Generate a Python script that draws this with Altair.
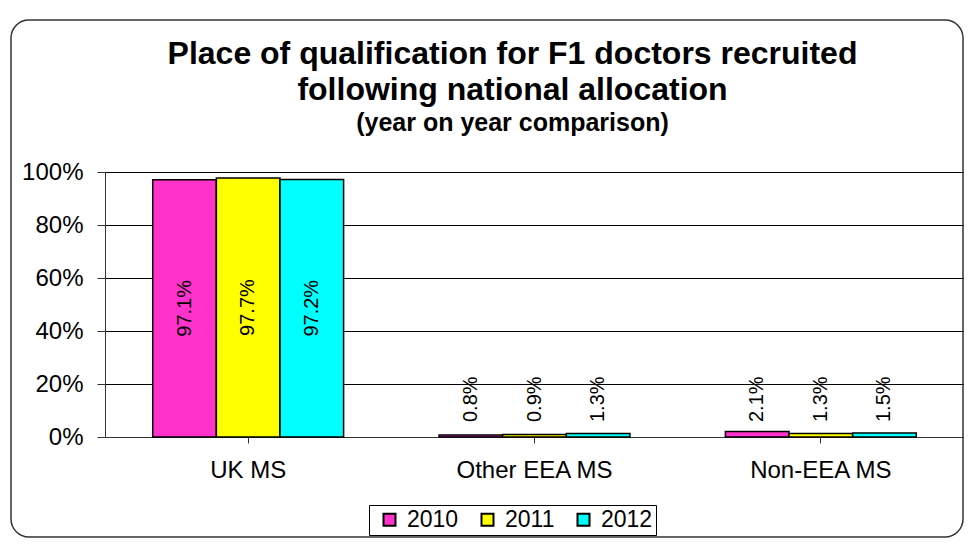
import altair as alt
import pandas as pd

categories = ["UK MS", "Other EEA MS", "Non-EEA MS"]
years = ["2010", "2011", "2012"]
values_2010 = [97.1, 0.8, 2.1]
values_2011 = [97.7, 0.9, 1.3]
values_2012 = [97.2, 1.3, 1.5]
colors = ["#FF33CC", "#FFFF00", "#00FFFF"]
y_ticks = [0, 20, 40, 60, 80, 100]
title_lines = ["Place of qualification for F1 doctors recruited", "following national allocation"]
subtitle_text = "(year on year comparison)"

rows = []
for yr, vals in zip(years, [values_2010, values_2011, values_2012]):
    for c, v in zip(categories, vals):
        rows.append({"category": c, "year": yr, "value": v})
df = pd.DataFrame(rows)

FONT = "Liberation Sans"
W, H = 859, 265

x_enc = alt.X(
    "category:N",
    sort=categories,
    scale=alt.Scale(paddingInner=1 / 3, paddingOuter=1 / 6),
    axis=alt.Axis(
        title=None, labelAngle=0, labelFontSize=24, labelFont=FONT, labelColor="black",
        labelPadding=15, tickSize=6, tickColor="#333333", domainColor="#333333",
        grid=False,
    ),
)
xo_enc = alt.XOffset("year:N", sort=years, scale=alt.Scale(paddingInner=0, paddingOuter=0))
y_axis = alt.Axis(
    title=None, values=y_ticks, labelExpr="datum.value + '%'", labelFontSize=24,
    labelFont=FONT, labelColor="black", labelPadding=14, tickSize=8,
    tickColor="#333333", domainColor="#333333", grid=True, gridColor="black",
    gridWidth=1, gridOpacity=1,
)
y_scale = alt.Scale(domain=[0, 100], nice=False)

bars = alt.Chart(df).mark_bar(stroke="black", strokeWidth=1.5).encode(
    x=x_enc,
    xOffset=xo_enc,
    y=alt.Y("value:Q", scale=y_scale, axis=y_axis),
    color=alt.Color(
        "year:N", sort=years, title=None,
        scale=alt.Scale(domain=years, range=colors),
        legend=alt.Legend(
            orient="none", legendX=264, legendY=333, direction="horizontal",
            strokeColor="black", fillColor="white", padding=3, symbolOffset=6,
            symbolType="square", symbolSize=144, symbolStrokeColor="black",
            symbolStrokeWidth=2, symbolOpacity=1, labelFontSize=23, labelFont=FONT,
            labelColor="black", columnPadding=11, labelOffset=6,
        ),
    ),
)

text_base = alt.Chart(df).transform_calculate(
    label="format(datum.value, '.1f') + '%'", mid="datum.value / 2"
)
big_labels = text_base.transform_filter("datum.value >= 50").mark_text(
    angle=270, align="center", baseline="middle", fontSize=20, font=FONT, color="black"
).encode(x=x_enc, xOffset=xo_enc, y=alt.Y("mid:Q", scale=y_scale), text="label:N")

small_labels = text_base.transform_filter("datum.value < 50").mark_text(
    angle=270, align="left", baseline="middle", dx=15, fontSize=20, font=FONT, color="black"
).encode(x=x_enc, xOffset=xo_enc, y=alt.datum(0), text="label:N")

frame = alt.Chart(pd.DataFrame({"f": [0]})).mark_rect(
    cornerRadius=18, fillOpacity=0, stroke="#333333", strokeWidth=1.5
).encode(x=alt.value(-94), x2=alt.value(W - 1), y=alt.value(-152), y2=alt.value(365))

chart = alt.layer(frame, bars, big_labels, small_labels).properties(
    width=W,
    height=H,
    autosize=alt.AutoSizeParams(type="none"),
    padding={"left": 97, "top": 164, "right": 0, "bottom": 102},
    title=alt.TitleParams(
        text=title_lines, subtitle=subtitle_text, anchor="middle", frame="group", dx=-22,
        font=FONT, fontSize=32, fontWeight="bold", color="black", lineHeight=36,
        subtitleFont=FONT, subtitleFontSize=25, subtitleFontWeight="bold",
        subtitleColor="black", subtitlePadding=4, offset=-118,
    ),
).configure_view(
    stroke="#808080", fill="#C0C0C0", strokeWidth=1.5
).configure(background="white")

chart.save("out.html", embed_options={"renderer": "svg", "actions": False})
